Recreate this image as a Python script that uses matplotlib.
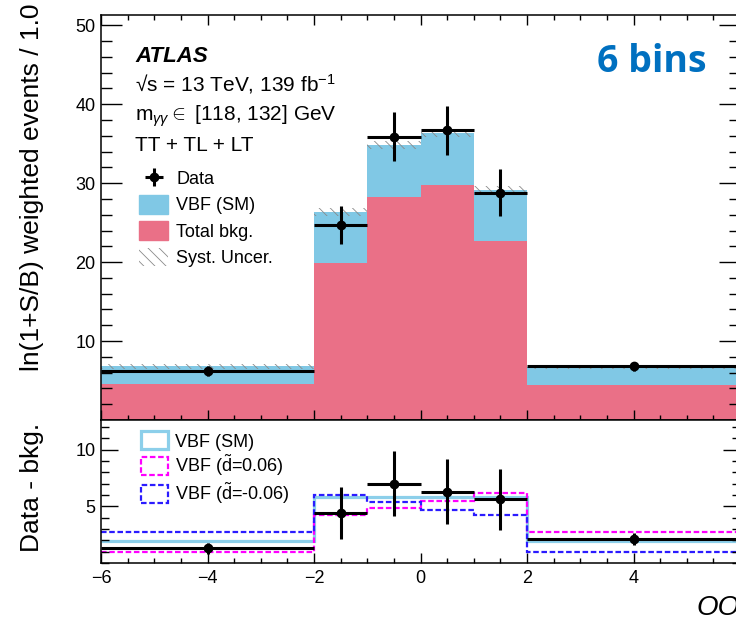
import numpy as np
import matplotlib
matplotlib.use("AGG")
import matplotlib.pyplot as plt
from matplotlib.patches import Patch
from matplotlib.ticker import MultipleLocator

plt.rcParams['font.family'] = ['Liberation Sans', 'DejaVu Sans']
plt.rcParams['mathtext.fontset'] = 'custom'
plt.rcParams['mathtext.rm'] = 'Liberation Sans'
plt.rcParams['mathtext.it'] = 'Liberation Sans:italic'
plt.rcParams['mathtext.bf'] = 'Liberation Sans:bold'
plt.rcParams['hatch.linewidth'] = 0.6

# bin edges of the observable
edges = np.array([-6, -2, -1, 0, 1, 2, 6])
xtick_pos = [-6, -4, -2, 0, 2, 4, 6]
xtick_lab = ['\u22126', '\u22124', '\u22122', '0', '2', '4', '']

# upper panel: weighted events
bkg = [4.6, 19.9, 28.2, 29.8, 22.7, 4.4]
vbf_sm = [2.2, 6.5, 6.6, 6.6, 6.4, 2.3]
syst = [0.3, 0.5, 0.5, 0.5, 0.5, 0.3]
data = [6.2, 24.7, 35.9, 36.7, 28.8, 6.8]
data_err = [0.6, 2.45, 3.1, 3.1, 3.0, 0.6]

# lower panel: data - bkg
diff = [1.3, 4.4, 7.0, 6.3, 5.6, 2.1]
diff_err = [0.5, 2.3, 2.85, 2.85, 2.7, 0.5]
sm_line = [1.9, 5.85, 5.85, 5.85, 5.85, 1.95]
dpos_line = [1.0, 4.25, 4.85, 5.5, 6.15, 2.75]
dneg_line = [2.7, 6.0, 5.4, 4.7, 4.25, 1.0]

pink = '#EA7087'
sky = '#80C8E5'
sm_col = '#8CCFEA'

centers = 0.5 * (edges[1:] + edges[:-1])
halfw = 0.5 * (edges[1:] - edges[:-1])
tot = np.array(bkg) + np.array(vbf_sm)

fig = plt.figure(figsize=(7.36, 6.2), dpi=100)
ax = fig.add_axes([101/736, 200/620, 639/736, 405/620])
ax2 = fig.add_axes([101/736, 57/620, 639/736, 143/620], sharex=ax)

# upper panel
ax.stairs(tot, edges, baseline=0, fill=True, color=sky, lw=0)
ax.stairs(bkg, edges, baseline=0, fill=True, color=pink, lw=0)
ax.stairs(tot + np.array(syst), edges, baseline=tot - np.array(syst), fill=True,
          facecolor='none', edgecolor='#8a8a8a', hatch='\\\\\\', lw=0)
eb = ax.errorbar(centers, data, xerr=halfw, yerr=data_err, fmt='o', color='black',
                 ms=6, elinewidth=2.2, capsize=0, zorder=5)

ax.set_xlim(-6, 6)
ax.set_ylim(0, 51.3)
ax.set_yticks([10, 20, 30, 40, 50])
ax.yaxis.set_minor_locator(MultipleLocator(2))
ax.xaxis.set_minor_locator(MultipleLocator(0.5))
ax.tick_params(axis='both', which='both', direction='in', top=True, right=True,
               labelsize=13, width=1)
ax.tick_params(axis='x', labelbottom=False)
ax.tick_params(axis='y', which='major', length=15, pad=4)
ax.tick_params(axis='y', which='minor', length=8)
ax.tick_params(axis='x', which='major', length=7)
ax.tick_params(axis='x', which='minor', length=3.5)

handles = [eb, Patch(facecolor=sky, edgecolor=sky), Patch(facecolor=pink, edgecolor=pink),
           Patch(facecolor='white', edgecolor='#8a8a8a', hatch='\\\\\\', lw=0)]
labels = ['Data', 'VBF (SM)', 'Total bkg.', 'Syst. Uncer.']
ax.legend(handles, labels, loc='upper left', bbox_to_anchor=(0.06, 0.62), frameon=False,
          fontsize=13, handlelength=1.6, handleheight=1.2, handletextpad=0.45,
          labelspacing=0.38, borderaxespad=0, borderpad=0)

fig.text(135/736, 0.9005, 'ATLAS', fontsize=16, fontweight='bold', style='italic', va='baseline')
fig.text(135/736, 0.853, '\u221as = 13 TeV, 139 fb$^{-1}$', fontsize=15, va='baseline')
fig.text(135/736, 0.805, r'm$_{\gamma\gamma}$$\in$ [118, 132] GeV', fontsize=15, va='baseline')
fig.text(135/736, 0.757, 'TT + TL + LT', fontsize=15, va='baseline')
fig.text(597/736, (620-72)/620, '6 bins', fontsize=27, fontweight='bold', color='#0070C0',
         family='Open Sans', va='baseline')

# lower panel
ax2.stairs(sm_line, edges, baseline=None, color=sm_col, lw=2.3)
ax2.stairs(dpos_line, edges, baseline=None, color='#FF00FF', lw=1.6, ls=(0, (2.5, 1.2)))
ax2.stairs(dneg_line, edges, baseline=None, color='#2B1BFF', lw=1.6, ls=(0, (2.5, 1.2)))
ax2.errorbar(centers, diff, xerr=halfw, yerr=diff_err, fmt='o', color='black',
             ms=6, elinewidth=2.2, capsize=0, zorder=5)

ax2.set_ylim(0, 12.6)
ax2.set_yticks([5, 10])
ax2.yaxis.set_minor_locator(MultipleLocator(1))
ax2.set_xticks(xtick_pos, xtick_lab)
ax2.tick_params(axis='both', which='both', direction='in', right=True, labelsize=13, width=1)
ax2.tick_params(axis='y', which='major', length=12, pad=4)
ax2.tick_params(axis='y', which='minor', length=6)
ax2.tick_params(axis='x', which='major', length=7, pad=5)
ax2.tick_params(axis='x', which='minor', length=3.5)

h2 = [Patch(facecolor='none', edgecolor=sm_col, lw=2.3),
      Patch(facecolor='none', edgecolor='#FF00FF', lw=1.6, ls=(0, (2.5, 1.2))),
      Patch(facecolor='none', edgecolor='#2B1BFF', lw=1.6, ls=(0, (2.5, 1.2)))]
l2 = ['VBF (SM)', r'VBF ($\tilde{\mathrm{d}}$=0.06)', r'VBF ($\tilde{\mathrm{d}}$=-0.06)']
ax2.legend(h2, l2, loc='upper left', bbox_to_anchor=(0.062, 0.92), frameon=False,
           fontsize=13, handlelength=1.5, handleheight=1.15, handletextpad=0.4,
           labelspacing=0.12, borderaxespad=0, borderpad=0)

for a in (ax, ax2):
    for s in a.spines.values():
        s.set_linewidth(1.1)

fig.text(0.043, (620-187)/620, 'ln(1+S/B) weighted events / 1.0', rotation=90,
         fontsize=19, ha='center', va='center')
fig.text(0.043, (620-487)/620, 'Data - bkg.', rotation=90, fontsize=19, ha='center', va='center')
fig.text(740/736, 5/620, 'OO', fontsize=20, style='italic', ha='right', va='baseline')

fig.savefig('out.png', dpi=100)
